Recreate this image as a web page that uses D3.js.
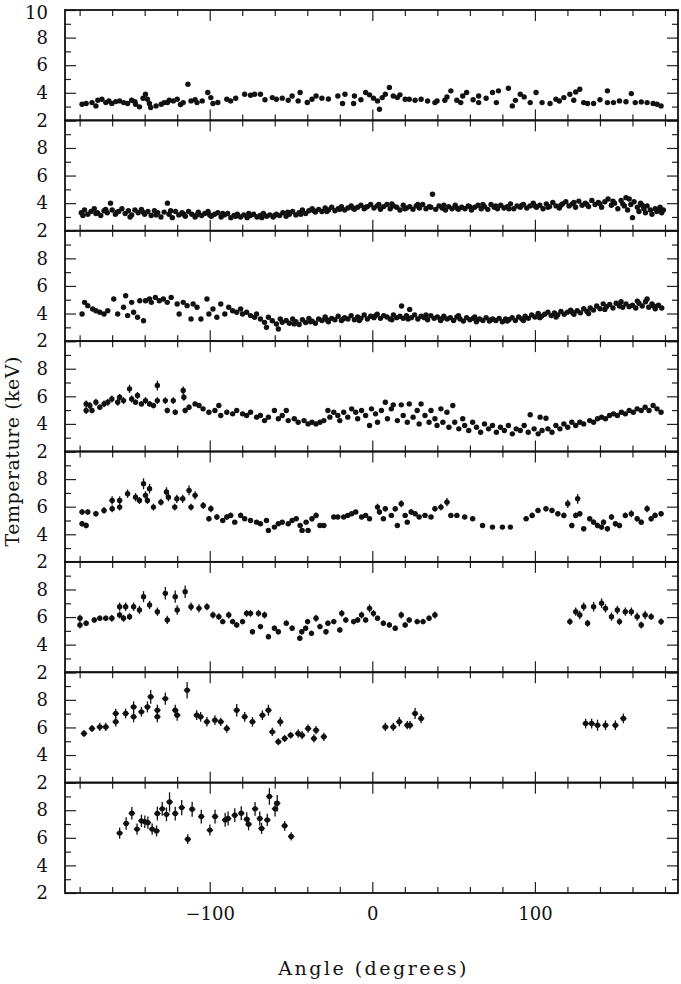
<!DOCTYPE html>
<html>
<head>
<meta charset="utf-8">
<script src="https://cdnjs.cloudflare.com/ajax/libs/d3/7.8.5/d3.min.js"></script>
<style>
  body { margin: 0; background: #fff; }
  text { font-family: 'DejaVu Serif', serif; fill: #111; }
  .tick line { stroke: #222; stroke-width: 1.2; }
</style>
</head>
<body>
<div id="chart"></div>
<script>
// Temperature vs angle, one panel per radial bin (top = innermost)
// points are [angle, kT] or [angle, kT, error]

var bin1 = [
  [-178.5,3.17],[-176,3.22],[-172.4,3.29],[-170,3.05],[-168.8,3.46],[-166.3,3.53],[-163.9,3.29],[-162,3.4],[-160.2,3.22],
  [-157.8,3.36],[-155.4,3.41],[-152.9,3.29],[-150.5,3.22],[-148,3.46],[-146,3.35],[-145.6,3.17],[-143.2,2.98],[-141,3.6],
  [-139.5,3.89],[-138.3,3.53],[-137.1,3.22],[-136.3,2.93],[-133,3.05],[-129.8,3.17],[-128,3.29],[-126,3.3],[-124.9,3.46],
  [-122.4,3.41],[-120,3.53],[-118,3.15],[-116.3,3.29],[-113.4,4.62],[-111.5,3.41],[-109,3.5],[-107.8,3.29],[-104.6,3.41],
  [-101.2,4.02],[-99.3,3.65],[-98,3.22],[-95,3.3],[-89.5,3.53],[-87.1,3.41],[-84,3.6],[-78.5,3.89],[-74.9,3.82],[-72.4,3.89],
  [-68.8,3.89],[-66,3.5],[-61.5,3.65],[-59,3.53],[-55.4,3.61],[-51.7,3.46],[-49.3,3.77],[-45.6,3.41],[-44.4,4.02],[-40,3.3],
  [-37.1,3.53],[-34.6,3.77],[-31,3.61],[-27,3.55],[-21.2,3.77],[-18.3,3.22],[-16.8,3.89],[-11.5,3.22],[-11,3.77],[-7,3.5],
  [-4.1,4.02],[-1.7,3.85],[0.7,3.61],[3.2,3.41],[4.4,2.81],[6.1,3.65],[8,3.89],[10.5,4.38],[12.9,3.77],[15.4,3.65],[17,3.85],
  [20.2,3.53],[22.7,3.53],[26.3,3.46],[30,3.53],[34,3.4],[38.5,3.29],[39.8,3.41],[44.6,3.46],[45.9,3.7],[48.3,4.14],[52,3.46],
  [54.4,3.29],[55.6,3.77],[58,4.02],[62,3.5],[65.4,3.77],[65.4,3.29],[70,3.6],[73.9,4.02],[76.3,3.29],[77.6,4.14],[83.7,4.33],
  [86.1,3.05],[88,3.45],[91,3.89],[93.4,3.7],[97.1,3.29],[100.7,4.02],[104.4,3.29],[109.3,3.22],[112.9,3.53],[115,3.4],
  [117.8,3.65],[121.5,3.89],[123.9,3.46],[125.1,4.06],[127.6,4.26],[130,3.29],[132.4,3.22],[136.1,3.22],[140,3.5],[144.6,4.14],
  [144.6,3.29],[148.3,3.29],[152,3.41],[156,3.35],[159.3,3.94],[161.7,3.29],[165.4,3.34],[169,3.29],[172.7,3.22],[175.1,3.17],
  [177.6,3.05]
];

var bin2 = [
  [-179,3.3],[-178,3.1],[-177,3.5],[-175,3.2],[-173,3.4],[-171,3.6],[-170,3.25],[-169,3.3],[-167,3.1],[-165,3.45],[-164,3.55],
  [-163,3.3],[-161,4.0],[-160,3.5],[-158,3.2],[-157,3.35],[-156,3.4],[-154,3.6],[-152,3.25],[-150,3.45],[-149,3.0],[-148,3.15],
  [-146,3.5],[-144,3.3],[-142,3.55],[-141,3.35],[-140,3.2],[-138,3.4],[-136,3.1],[-134,3.45],[-133,3.15],[-132,3.3],[-130,3.0],
  [-128,3.35],[-126,4.0],[-125,3.2],[-124,3.45],[-123,2.95],[-121,3.4],[-119,3.15],[-117,3.3],[-116,3.2],[-115,3.05],[-113,3.4],
  [-111,3.2],[-109,3.0],[-108,3.15],[-107,3.35],[-105,3.1],[-103,3.25],[-101,3.4],[-100,3.15],[-99,3.05],[-97,3.2],[-95,3.3],
  [-93,3.0],[-92,3.25],[-91,3.15],[-89,3.25],[-87,2.95],[-85,3.1],[-84,3.05],[-83,3.2],[-81,3.0],[-79,3.15],[-77,2.95],[-76,3.25],
  [-75,3.1],[-73,3.2],[-71,3.0],[-69,3.1],[-68,2.95],[-67,3.25],[-65,3.05],[-63,3.15],[-61,3.0],[-60,3.1],[-59,3.2],[-57,3.1],
  [-55,3.3],[-53,3.05],[-52,3.35],[-51,3.2],[-49,3.4],[-47,3.15],[-45,3.3],[-44,3.2],[-43,3.5],[-41,3.25],[-39,3.45],[-37,3.6],
  [-36,3.45],[-35,3.35],[-33,3.55],[-31,3.4],[-29,3.65],[-28,3.4],[-27,3.5],[-25,3.7],[-23,3.45],[-21,3.6],[-20,3.55],[-19,3.75],
  [-17,3.5],[-15,3.65],[-13,3.8],[-12,3.65],[-11,3.55],[-9,3.7],[-7,3.85],[-5,3.6],[-4,3.7],[-3,3.75],[-1,3.9],[1,3.65],[3,3.8],
  [4,3.9],[5,3.55],[7,3.75],[9,3.9],[11,3.6],[12,3.95],[13,3.8],[15,3.7],[17,3.5],[19,3.85],[20,3.6],[21,3.65],[23,3.75],[25,3.55],
  [27,3.8],[28,3.9],[29,3.65],[31,3.9],[33,3.6],[35,3.75],[36,3.7],[37,4.65],[39,3.55],[41,3.8],[43,3.65],[44,3.85],[45,3.5],
  [47,3.75],[49,3.6],[51,3.85],[52,3.65],[53,3.55],[55,3.7],[57,3.6],[59,3.8],[60,3.75],[61,3.5],[63,3.7],[65,3.85],[67,3.6],
  [68,3.9],[69,3.75],[71,3.55],[73,3.9],[75,3.7],[76,3.8],[77,3.6],[79,3.85],[81,3.65],[83,3.75],[84,3.6],[85,3.95],[87,3.6],
  [89,3.8],[91,3.7],[92,3.85],[93,3.9],[95,3.65],[97,3.8],[99,4.0],[100,3.8],[101,3.7],[103,3.85],[105,3.6],[107,3.95],[108,3.7],
  [109,3.75],[111,4.05],[113,3.8],[115,3.65],[116,3.85],[117,3.95],[119,4.1],[121,3.8],[123,3.95],[124,4.05],[125,3.7],[127,4.15],
  [129,3.85],[131,4.0],[132,3.9],[133,3.75],[135,4.2],[137,3.9],[139,4.05],[140,3.95],[141,3.7],[143,4.1],[145,4.3],[147,3.85],
  [148,4.15],[149,4.0],[151,3.6],[153,4.2],[154,3.95],[155,3.8],[156,4.4],[157,3.5],[158,4.3],[159,3.9],[160,2.95],[161,4.1],
  [163,3.7],[164,3.4],[165,4.0],[166,3.85],[167,3.6],[168,3.3],[169,3.8],[171,3.5],[172,3.2],[174,3.6],[175,3.4],[176,3.55],
  [177,3.7],[178,3.3],[179,3.5]
];

var bin3 = [
  [-178.5,3.97],[-177,4.81],[-175,4.57],[-172,4.33],[-170,4.2],[-167.6,4.09],[-165,3.97],[-162.7,4.2],[-159,5.05],[-156.6,3.97],
  [-153,4.45],[-151.7,5.29],[-150.5,3.85],[-148,4.81],[-146.8,4.09],[-144.4,3.73],[-143,4.93],[-140.7,3.48],[-139.5,4.93],
  [-137,5.05],[-135.9,4.81],[-133.4,5.17],[-131,4.93],[-128.5,5.05],[-126.1,4.81],[-123.7,5.17],[-120,4.69],[-118.8,3.97],
  [-116.3,4.81],[-113.9,4.57],[-111.5,3.6],[-110.2,4.69],[-107.8,4.45],[-105.4,3.6],[-101.7,5.05],[-100.5,3.97],[-98,4.33],
  [-95.6,3.73],[-93.2,4.69],[-90.7,3.97],[-88.3,4.45],[-85.9,4.2],[-83.4,4.09],[-81,4.33],[-79.8,3.97],[-77.3,4.09],[-74.9,3.85],
  [-72.4,3.73],[-71.2,3.97],[-68.8,3.6],[-66.3,3.36],[-65.1,3.0],[-63.9,3.73],[-61.5,3.48],[-59,3.24],[-57.8,2.88],[-56.6,3.6],
  [-55.4,3.36],[-53,3.5],[-51,3.3],[-49,3.6],[-48,3.25],[-47,3.4],[-45,3.2],[-43,3.55],[-41,3.35],[-39,3.65],[-38,3.4],[-37,3.45],
  [-35,3.3],[-33,3.6],[-31,3.5],[-29,3.75],[-28,3.55],[-27,3.4],[-25,3.65],[-23,3.55],[-21,3.8],[-19,3.5],[-18,3.6],[-17,3.7],
  [-15,3.6],[-13,3.85],[-11,3.55],[-9,3.75],[-8,3.5],[-7,3.65],[-5,3.9],[-3,3.6],[-1,3.8],[1,3.7],[2,3.85],[3,3.95],[5,3.65],
  [7,3.85],[9,3.75],[11,3.6],[12,3.55],[13,3.9],[15,3.7],[17,3.8],[18,4.55],[19,3.65],[21,3.85],[22,3.6],[23,4.3],[24,3.7],[26,3.9],
  [28,3.6],[30,3.8],[32,3.7],[33,3.9],[34,3.55],[36,3.85],[38,3.65],[40,3.75],[42,3.5],[43,3.65],[44,3.8],[46,3.6],[48,3.7],
  [50,3.5],[52,3.75],[53,3.85],[54,3.6],[56,3.45],[58,3.7],[60,3.55],[62,3.65],[63,3.75],[64,3.4],[66,3.6],[68,3.5],[70,3.7],
  [72,3.45],[73,3.55],[74,3.6],[76,3.5],[78,3.65],[80,3.4],[82,3.6],[83,3.45],[84,3.55],[86,3.7],[88,3.5],[90,3.75],[92,3.6],
  [93,3.5],[94,3.8],[96,3.65],[98,3.9],[100,3.75],[102,4.0],[103,3.7],[104,3.8],[106,3.95],[108,4.1],[110,3.85],[112,4.05],
  [113,3.75],[114,3.9],[116,4.15],[118,3.95],[120,4.1],[122,4.25],[123,4.1],[124,3.95],[126,4.2],[128,4.05],[130,4.35],[132,4.15],
  [133,4.0],[134,4.4],[136,4.25],[138,4.55],[140,4.35],[142,4.7],[143,4.3],[144,4.5],[146,4.65],[148,4.4],[150,4.75],[152,4.55],
  [153,4.85],[154,4.45],[156,4.7],[158,4.5],[160,4.6],[162,4.4],[163,4.9],[164,4.75],[166,4.55],[168,4.85],[169,5.05],[170,4.45],
  [172,4.7],[173,4.55],[174,4.35],[176,4.6],[178,4.4]
];

var bin4 = [
  [-176,5.45,0.25],[-176,4.97,0.25],[-173.7,5.33,0.25],[-172.4,4.97,0.2],[-170,5.57,0.25],[-167.6,5.21,0.2],[-165,5.45,0.25],
  [-162.7,5.57,0.25],[-160.2,5.81,0.25],[-156.6,5.57,0.25],[-155.4,5.93,0.25],[-153,5.69,0.25],[-149.3,6.54,0.3],[-148,5.81,0.25],
  [-145.6,5.57,0.2],[-144.4,6.06,0.25],[-142,5.45,0.2],[-139.5,5.69,0.25],[-137,5.45,0.2],[-134.6,5.33,0.2],[-132.2,6.78,0.35],
  [-132.2,5.69,0.25],[-127.3,5.69,0.25],[-126.1,4.97,0.2],[-122.4,5.69,0.25],[-121.2,4.85,0.2],[-116.3,6.42,0.3],[-115.9,5.93,0.25],
  [-115.1,4.97,0.2],[-112.7,5.21,0.2],[-109,5.45,0.15],[-106.6,5.33,0.15],[-104.1,5.09,0.1],[-100.5,4.85,0.1],[-96.8,4.97,0.1],
  [-94.4,5.33,0.15],[-93.2,4.61,0.1],[-89.5,4.85,0.1],[-85.9,4.73,0.1],[-83.4,4.97,0.1],[-79.8,4.73,0.1],[-77.3,4.61,0.1],
  [-74.9,4.85,0.1],[-71.2,4.49,0.1],[-68.8,4.61,0.1],[-66.3,4.24,0.1],[-63.9,4.49,0.1],[-60.2,4.97,0.1],[-57.8,4.37,0.1],
  [-55.4,4.61,0.1],[-52.9,4.97,0.1],[-51.7,4.24,0.1],[-48,4.37,0.1],[-45.6,4.12,0.1],[-42,4.24,0.1],[-39.5,4.0,0.1],[-37.1,4.12,0.1],
  [-34.6,4.0,0.1],[-32.2,4.12,0.1],[-29.8,4.24,0.1],[-27.3,4.97,0.1],[-26.1,4.49,0.1],[-23.7,4.85,0.1],[-21.2,4.61,0.1],
  [-20,4.24,0.1],[-17.6,4.85,0.1],[-15.1,4.49,0.1],[-12.7,5.09,0.1],[-10.2,4.85,0.1],[-9,4.37,0.1],[-6.6,4.97,0.1],[-4.1,4.61,0.1],
  [-1.7,3.88,0.1],[-0.5,5.09,0.1],[2,4.73,0.1],[3.2,4.12,0.1],[5.6,4.97,0.1],[8,5.57,0.15],[9.3,4.37,0.1],[11.7,5.09,0.1],
  [12.9,5.38,0.1],[15.4,4.24,0.1],[17.8,5.38,0.1],[19,4.61,0.1],[21.5,4.12,0.1],[22.7,5.45,0.1],[25.1,4.49,0.1],[27.6,4.97,0.1],
  [28.8,4.0,0.1],[30,5.45,0.1],[32.4,4.61,0.1],[34.9,4.12,0.1],[36.1,4.97,0.1],[38.5,4.37,0.1],[39.8,3.88,0.1],[42.2,5.09,0.1],
  [43.4,4.12,0.1],[45.9,4.85,0.1],[47.1,3.76,0.1],[49.5,5.33,0.1],[50.7,4.12,0.1],[53.2,3.64,0.1],[55.6,4.37,0.1],[56.8,3.88,0.1],
  [59.3,3.52,0.1],[61.7,4.12,0.1],[64.1,3.76,0.1],[66.6,3.4,0.1],[69,4.0,0.1],[71.5,3.64,0.1],[73.9,3.88,0.1],[76.3,3.4,0.1],
  [78.8,3.76,0.1],[81.2,3.52,0.1],[83.7,3.88,0.1],[86.1,3.28,0.1],[88.5,3.64,0.1],[91,3.52,0.1],[93.4,3.88,0.1],[95.9,3.4,0.1],
  [97.1,4.66,0.1],[99.5,3.64,0.1],[102,3.28,0.1],[103.2,4.49,0.1],[104.4,3.52,0.1],[106.8,4.41,0.1],[108,3.64,0.1],[110.5,3.4,0.1],
  [112.9,3.88,0.1],[115.4,3.64,0.1],[117.8,4.0,0.1],[120.2,3.76,0.1],[122.7,4.12,0.1],[125.1,3.88,0.1],[127.6,4.12,0.1],
  [130,4.0,0.1],[133.7,4.24,0.1],[136.1,4.12,0.1],[138.5,4.37,0.1],[141,4.49,0.1],[143.4,4.37,0.1],[145.9,4.61,0.1],[148.3,4.73,0.1],
  [150.7,4.61,0.1],[153.2,4.85,0.1],[155.6,4.73,0.1],[158,4.97,0.1],[160.5,4.85,0.1],[162.9,5.09,0.15],[165.4,4.97,0.1],
  [167.8,5.21,0.15],[170.2,4.97,0.1],[172.7,5.33,0.15],[175.1,5.09,0.1],[177.6,4.85,0.1]
];

var bin5 = [
  [-178.5,5.61,0.2],[-178.5,4.76,0.2],[-176,4.64,0.2],[-175,5.61,0.2],[-170,5.49,0.2],[-165,5.73,0.25],[-160,5.85,0.25],
  [-160,6.45,0.3],[-155.4,6.45,0.3],[-155.4,5.97,0.25],[-150.5,6.94,0.3],[-145.6,6.69,0.3],[-143.2,6.45,0.25],[-140.7,7.66,0.4],
  [-139.5,6.82,0.3],[-138.3,6.45,0.25],[-137,7.3,0.35],[-134.6,5.97,0.25],[-130,6.33,0.25],[-126.6,7.06,0.35],[-125.4,6.69,0.3],
  [-121.5,5.97,0.25],[-120.2,6.57,0.3],[-116.6,6.57,0.3],[-112.7,7.18,0.35],[-111.5,5.97,0.25],[-109,6.82,0.3],[-104,6.09,0.25],
  [-100.5,5.13,0.2],[-99.3,5.85,0.25],[-95.6,5.25,0.2],[-92,5.0,0.15],[-89.5,5.25,0.2],[-87.1,5.37,0.2],[-84.6,4.88,0.15],
  [-81,5.37,0.2],[-78.5,5.13,0.15],[-74.9,5.0,0.15],[-71.2,4.88,0.15],[-68.8,4.76,0.15],[-65.1,5.0,0.15],[-63.9,4.28,0.15],
  [-60.2,4.52,0.15],[-57.8,4.76,0.15],[-55.4,4.88,0.15],[-51.7,4.76,0.15],[-49.3,5.0,0.15],[-46.8,5.13,0.15],[-44.4,4.64,0.15],
  [-43.2,4.28,0.15],[-40.7,4.88,0.15],[-39.5,4.28,0.15],[-37.1,5.13,0.2],[-34.6,5.37,0.2],[-32.2,4.64,0.15],[-29.8,4.64,0.15],
  [-23.7,5.25,0.15],[-21.2,5.25,0.15],[-17.6,5.25,0.15],[-15.1,5.37,0.15],[-12.7,5.49,0.15],[-10.2,5.61,0.15],[-6.6,5.25,0.15],
  [-4.1,5.37,0.15],[-1.7,5.13,0.15],[3.2,5.97,0.25],[4.4,5.61,0.2],[6.8,5.13,0.15],[8,5.85,0.2],[11.7,5.37,0.15],[14.1,5.85,0.2],
  [15.4,4.64,0.15],[17.8,6.21,0.25],[20.2,5.37,0.15],[21.5,4.88,0.15],[23.9,5.61,0.2],[26.3,5.49,0.15],[28.8,5.25,0.15],
  [32.4,5.37,0.15],[36.1,5.25,0.15],[38.5,5.85,0.2],[42.2,5.97,0.25],[45.9,6.33,0.3],[48.3,5.37,0.15],[52,5.37,0.15],
  [56.8,5.25,0.15],[61.7,5.13,0.15],[67.8,4.64,0.15],[73.9,4.52,0.15],[80,4.52,0.15],[84.9,4.52,0.15],[94.6,5.13,0.15],
  [98.3,5.37,0.2],[101.9,5.73,0.2],[106.8,5.85,0.2],[110.5,5.73,0.2],[114.1,5.49,0.2],[117.8,5.37,0.2],[120.2,6.21,0.3],
  [122.7,4.64,0.2],[125.1,5.37,0.2],[126.3,6.57,0.35],[127.6,5.49,0.2],[130,4.4,0.2],[133.7,5.13,0.2],[136.1,4.88,0.2],
  [138.5,4.64,0.2],[141,4.52,0.2],[142.2,4.88,0.2],[144.6,4.4,0.2],[147.1,5.25,0.2],[149.5,4.76,0.2],[152,4.64,0.2],
  [155.6,5.37,0.2],[159.3,5.49,0.25],[162.9,5.13,0.2],[165.4,4.88,0.2],[169,5.85,0.25],[171.5,5.13,0.2],[173.9,5.37,0.2],
  [177.6,5.49,0.2]
];

var bin6 = [
  [-179.8,5.91,0.25],[-179.8,5.43,0.25],[-176,5.55,0.2],[-171,5.79,0.2],[-167.6,5.91,0.2],[-163.9,5.91,0.2],[-160.2,5.91,0.25],
  [-155.4,6.15,0.25],[-155.4,6.75,0.3],[-153,5.91,0.25],[-151.7,6.75,0.3],[-149.3,6.03,0.25],[-146.8,6.75,0.3],[-143.2,6.51,0.3],
  [-140.7,7.48,0.4],[-137,6.88,0.3],[-132.2,6.39,0.3],[-127.3,7.72,0.45],[-126.1,5.79,0.3],[-121.2,7.48,0.45],[-120,6.51,0.35],
  [-115.1,7.84,0.45],[-111.5,6.75,0.3],[-106.6,6.63,0.3],[-101.7,6.75,0.25],[-98,6.15,0.25],[-94.4,6.03,0.25],[-92,5.67,0.2],
  [-88.3,6.15,0.25],[-85.9,5.67,0.2],[-83.4,5.43,0.2],[-79.8,5.67,0.2],[-77.3,6.27,0.25],[-74.9,6.27,0.25],[-73.7,4.94,0.2],
  [-70,6.27,0.25],[-68.8,5.31,0.2],[-66.3,6.15,0.25],[-63.9,4.58,0.2],[-60.2,5.19,0.2],[-57.8,4.94,0.2],[-52.9,5.55,0.2],
  [-49.3,5.19,0.2],[-44.6,4.46,0.2],[-43.4,4.94,0.2],[-41,5.19,0.2],[-39.8,5.67,0.2],[-37.4,4.82,0.2],[-34.6,5.91,0.25],
  [-32.2,5.31,0.2],[-28.5,4.94,0.2],[-27.3,5.55,0.2],[-23.7,5.67,0.2],[-20,5.07,0.2],[-18.8,6.27,0.25],[-16.3,5.79,0.2],
  [-11.5,5.67,0.2],[-9,5.79,0.2],[-6.6,6.15,0.25],[-4.1,5.79,0.2],[-1.7,6.63,0.3],[0.7,6.27,0.25],[3.2,5.91,0.2],[6.8,5.55,0.2],
  [10.5,5.43,0.2],[14.1,5.19,0.2],[17.8,6.15,0.25],[20.2,5.43,0.2],[22.7,5.79,0.2],[27.6,5.67,0.2],[31.2,5.67,0.2],[34.9,5.91,0.2],
  [38.5,6.15,0.25],
  [121.5,5.67,0.25],[125.1,6.39,0.3],[127.6,6.15,0.3],[130,6.75,0.3],[132.4,5.55,0.25],[136.1,6.75,0.35],[141,7.0,0.35],
  [143.4,6.63,0.3],[147.1,6.03,0.3],[150.7,6.51,0.3],[152,5.67,0.25],[155.6,6.39,0.3],[159.3,6.39,0.3],[162.9,6.03,0.3],
  [165.4,5.43,0.25],[167.8,6.15,0.3],[171.5,6.03,0.25],[177.6,5.67,0.25]
];

var bin7 = [
  [-177.3,5.56,0.25],[-172.4,5.92,0.25],[-167.6,6.04,0.3],[-163.9,6.04,0.3],[-157.8,6.41,0.35],[-157.8,7.01,0.35],
  [-151.7,7.01,0.35],[-146.8,6.77,0.4],[-146.8,7.49,0.4],[-142,7.13,0.35],[-138.3,7.49,0.4],[-136.3,8.22,0.5],[-132.2,6.77,0.4],
  [-132.2,7.25,0.4],[-127.3,8.09,0.45],[-121.2,7.25,0.4],[-120,6.89,0.4],[-113.9,8.7,0.6],[-108,6.89,0.35],[-105.6,6.77,0.35],
  [-101.7,6.41,0.35],[-96.8,6.53,0.35],[-93.2,6.41,0.3],[-89.5,5.92,0.3],[-83.4,7.25,0.45],[-78.5,6.77,0.35],[-73.7,6.41,0.35],
  [-67.6,6.89,0.35],[-63.9,7.25,0.4],[-61.5,5.68,0.3],[-57.8,4.96,0.25],[-56.6,6.41,0.35],[-53.9,5.2,0.25],[-50.2,5.44,0.25],
  [-45.6,5.56,0.3],[-43.2,5.44,0.3],[-39.5,5.92,0.3],[-35.9,5.2,0.3],[-34.6,5.8,0.3],[-29.8,5.32,0.3],
  [8,6.04,0.3],[12.9,6.04,0.3],[16.6,6.41,0.35],[21.5,6.16,0.3],[23.2,6.16,0.3],[26.3,7.01,0.4],[30,6.65,0.35],
  [131.2,6.28,0.35],[134.9,6.28,0.35],[138.5,6.16,0.4],[143.4,6.16,0.35],[149.5,6.16,0.35],[154.4,6.65,0.35]
];

var bin8 = [
  [-155.4,6.34,0.4],[-151.4,7.04,0.45],[-147.9,7.78,0.45],[-144.7,6.63,0.4],[-142,7.23,0.45],[-139.9,7.16,0.45],[-138,7.1,0.45],
  [-135.4,6.63,0.4],[-132.7,6.5,0.4],[-132.2,7.76,0.5],[-129.2,8.1,0.5],[-126.6,7.7,0.5],[-124.7,8.6,0.7],[-121.2,7.76,0.5],
  [-117.2,8.19,0.55],[-113.5,5.9,0.35],[-110.8,8.07,0.55],[-105.2,7.54,0.5],[-99.9,6.56,0.4],[-96.7,7.54,0.5],[-90.5,7.3,0.5],
  [-88.7,7.4,0.5],[-84.6,7.64,0.5],[-80.6,7.78,0.5],[-77.2,7.35,0.5],[-76.1,6.99,0.45],[-72.1,8.1,0.5],[-69.2,7.4,0.5],
  [-68.1,6.68,0.4],[-64.6,7.3,0.45],[-63.3,9.0,0.6],[-59.8,8.1,0.55],[-58.5,8.5,0.6],[-53.9,6.87,0.35],[-49.9,6.1,0.3]
];

var bins = [bin1, bin2, bin3, bin4, bin5, bin6, bin7, bin8];
// half width of the angular bins (degrees)
var binHalfWidth = [0, 0, 0, 1, 1.5, 1.5, 2, 2];

var yMajor = [2, 4, 6, 8, 10];
var yMinor = [3, 5, 7, 9];
var xMajor = [-100, 0, 100];
var xMinor = [-180, -160, -140, -120, -80, -60, -40, -20, 20, 40, 60, 80, 120, 140, 160, 180];

var svgWidth = 681;
var svgHeight = 984;
var margin = { top: 10, right: 3, bottom: 91, left: 65 };
var width = svgWidth - margin.left - margin.right;
var panelH = (svgHeight - margin.top - margin.bottom) / bins.length;

var svg = d3.select('#chart').append('svg')
  .attr('width', svgWidth)
  .attr('height', svgHeight);

var x = d3.scaleLinear().domain([-189, 188]).range([0, width]);

bins.forEach(function (data, i) {
  var g = svg.append('g')
    .attr('transform', `translate(${margin.left}, ${margin.top + i * panelH})`);

  var y = d3.scaleLinear().domain([2, 10]).range([panelH, 0]);
  var last = i === bins.length - 1;

  // error bars
  var hw = binHalfWidth[i];
  var bars = g.append('g').attr('stroke', '#111').attr('stroke-width', 1.3);
  data.forEach(function (d) {
    var e = d[2] || 0;
    if (e > 0) {
      bars.append('line')
        .attr('x1', x(d[0])).attr('x2', x(d[0]))
        .attr('y1', y(d[1] - e)).attr('y2', y(d[1] + e));
    }
    if (hw > 0) {
      bars.append('line')
        .attr('x1', x(d[0] - hw)).attr('x2', x(d[0] + hw))
        .attr('y1', y(d[1])).attr('y2', y(d[1]));
    }
  });

  g.append('g').selectAll('circle')
    .data(data)
    .enter()
    .append('circle')
    .attr('cx', (d) => x(d[0]))
    .attr('cy', (d) => y(d[1]))
    .attr('r', 2.7)
    .attr('fill', '#111');

  // y axes, ticks pointing inward
  var leftMajor = d3.axisLeft(y)
    .tickValues(yMajor)
    .tickSizeInner(-11).tickSizeOuter(0).tickPadding(17)
    .tickFormat((v) => (v === 10 && i > 0 ? '' : v));
  g.append('g').call(leftMajor).call(function (a) {
    a.selectAll('text').attr('font-size', 18).attr('fill', '#111')
      .attr('dy', (v) => (v === 10 ? '0.45em' : '0.32em'));
  });
  g.append('g').call(d3.axisLeft(y).tickValues(yMinor).tickSizeInner(-6).tickSizeOuter(0).tickFormat(''));

  var right = g.append('g').attr('transform', `translate(${width}, 0)`);
  right.append('g').call(d3.axisRight(y).tickValues(yMajor).tickSizeInner(-11).tickSizeOuter(0).tickFormat(''));
  right.append('g').call(d3.axisRight(y).tickValues(yMinor).tickSizeInner(-6).tickSizeOuter(0).tickFormat(''));

  // x axes top and bottom
  var bottom = g.append('g').attr('transform', `translate(0, ${panelH})`);
  var bottomMajor = d3.axisBottom(x).tickValues(xMajor).tickSizeInner(-11).tickSizeOuter(0).tickPadding(14);
  if (!last) bottomMajor.tickFormat('');
  bottom.append('g').call(bottomMajor).call((a) => a.selectAll('text').attr('font-size', 18).attr('fill', '#111'));
  bottom.append('g').call(d3.axisBottom(x).tickValues(xMinor).tickSizeInner(-6).tickSizeOuter(0).tickFormat(''));

  g.append('g').call(d3.axisTop(x).tickValues(xMajor).tickSizeInner(-11).tickSizeOuter(0).tickFormat(''));
  g.append('g').call(d3.axisTop(x).tickValues(xMinor).tickSizeInner(-6).tickSizeOuter(0).tickFormat(''));

  g.selectAll('.domain').remove();
  g.selectAll('.tick line').attr('stroke', '#222').attr('stroke-width', 1.2);

  g.append('rect')
    .attr('width', width)
    .attr('height', panelH)
    .attr('fill', 'none')
    .attr('stroke', '#111')
    .attr('stroke-width', 1.8);
});

// axis titles
svg.append('text')
  .attr('x', margin.left + x(0))
  .attr('y', 975)
  .attr('text-anchor', 'middle')
  .attr('font-size', 19)
  .attr('textLength', 188)
  .attr('lengthAdjust', 'spacing')
  .text('Angle (degrees)');

svg.append('text')
  .attr('transform', `translate(19, ${margin.top + 4 * panelH}) rotate(-90)`)
  .attr('text-anchor', 'middle')
  .attr('font-size', 19)
  .attr('textLength', 190)
  .attr('lengthAdjust', 'spacing')
  .text('Temperature (keV)');
</script>
</body>
</html>
